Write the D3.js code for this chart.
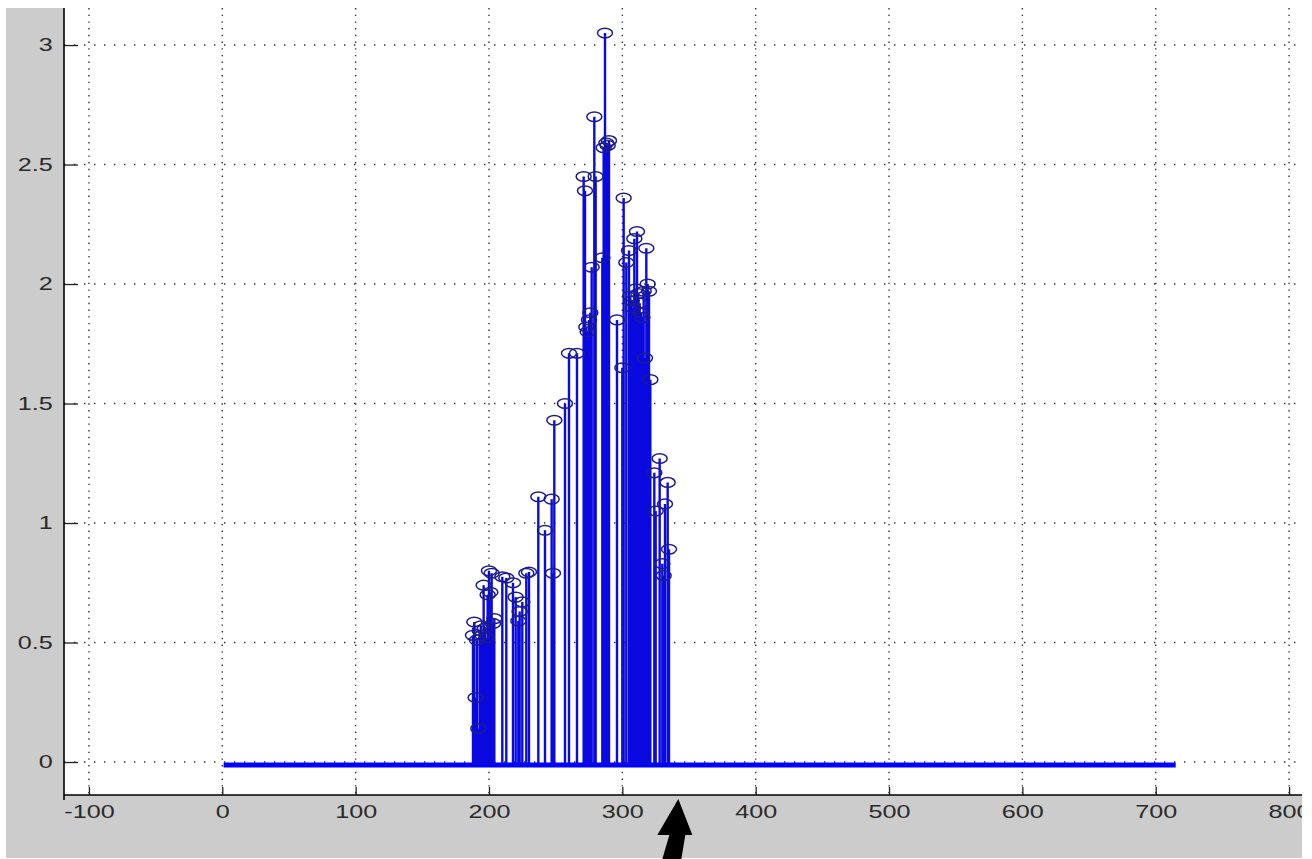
<!DOCTYPE html>
<html>
<head>
<meta charset="utf-8">
<script src="https://cdn.jsdelivr.net/npm/d3@7"></script>
<style>
body { margin: 0; background: #fff; }
svg { display: block; }
.tick text { font-family: "Liberation Sans", Arial, sans-serif; font-size: 18px; fill: #2a2a2a; }
</style>
</head>
<body>
<script>
// stem positions (sample index) and heights
const stemIdx = [188, 189, 190, 191, 192, 193, 194, 195, 196, 197, 198, 199, 200, 201, 202, 203, 204,
  210, 213, 218, 220, 222, 223, 225, 228, 230,
  237, 242, 247, 248, 249, 257, 260, 266,
  271, 272, 273, 274, 275, 276, 277, 279, 280,
  285, 286, 287, 288, 289, 290, 296, 300, 301, 303, 305,
  306, 307, 308, 309, 310, 311, 312, 313, 314, 315, 316, 317, 318, 319, 320, 321,
  324, 325, 328, 330, 331, 332, 334, 335];
const stemVal = [0.53, 0.586, 0.27, 0.51, 0.14, 0.55, 0.57, 0.53, 0.74, 0.56, 0.52, 0.70, 0.80, 0.71, 0.79, 0.58, 0.60,
  0.775, 0.77, 0.75, 0.69, 0.59, 0.63, 0.67, 0.79, 0.795,
  1.11, 0.97, 1.10, 0.79, 1.43, 1.50, 1.71, 1.71,
  2.45, 2.39, 1.82, 1.80, 1.85, 1.88, 2.07, 2.70, 2.45,
  2.11, 2.57, 3.05, 2.59, 2.58, 2.60, 1.85, 1.65, 2.36, 2.09, 2.14,
  1.95, 1.93, 1.90, 2.19, 1.98, 2.22, 1.96, 1.92, 1.88, 1.86, 1.97, 1.69, 2.15, 2.00, 1.97, 1.60,
  1.21, 1.05, 1.27, 0.83, 0.78, 1.08, 1.17, 0.89];

// the near-zero run that forms the thick baseline
const baseRange = [1, 715];
const baseVal = -0.012;

const xLimits = [-118.7, 809.7];
const yLimits = [-0.138, 3.155];
const xTicks = [-100, 0, 100, 200, 300, 400, 500, 600, 700, 800];
const yTicks = [0, 0.5, 1, 1.5, 2, 2.5, 3];

const arrowAt = 342;

const W = 1312, H = 859;
const frame = {left: 6, top: 8, right: 1302, bottom: 858};
const plot = {left: 64, top: 8, right: 1302, bottom: 795};

const svg = d3.select('body').append('svg')
  .attr('width', W)
  .attr('height', H);

svg.append('rect')
  .attr('width', W).attr('height', H)
  .attr('fill', '#fff');

svg.append('rect')
  .attr('x', frame.left).attr('y', frame.top)
  .attr('width', frame.right - frame.left)
  .attr('height', frame.bottom - frame.top)
  .attr('fill', '#cccccc');

svg.append('rect')
  .attr('x', plot.left).attr('y', plot.top)
  .attr('width', plot.right - plot.left)
  .attr('height', plot.bottom - plot.top)
  .attr('fill', '#fff');

const x = d3.scaleLinear().domain(xLimits).range([plot.left, plot.right]);
const y = d3.scaleLinear().domain(yLimits).range([plot.bottom, plot.top]);

// dotted grid
const grid = svg.append('g').attr('class', 'grid')
  .attr('stroke', '#333')
  .attr('stroke-width', 1.4);

grid.selectAll('line.gx')
  .data(xTicks)
  .enter()
  .append('line')
  .attr('class', 'gx')
  .attr('x1', d => x(d)).attr('x2', d => x(d))
  .attr('y1', plot.top).attr('y2', plot.bottom)
  .attr('stroke-dasharray', '1.4,5.3');

grid.selectAll('line.gy')
  .data(yTicks)
  .enter()
  .append('line')
  .attr('class', 'gy')
  .attr('x1', plot.left).attr('x2', plot.right)
  .attr('y1', d => y(d)).attr('y2', d => y(d))
  .attr('stroke-dasharray', '1.4,8.6');

// baseline
svg.append('line')
  .attr('x1', x(baseRange[0])).attr('x2', x(baseRange[1]))
  .attr('y1', y(baseVal)).attr('y2', y(baseVal))
  .attr('stroke', '#0000ff')
  .attr('stroke-width', 5);

const stems = stemIdx.map((d, i) => ({i: d, v: stemVal[i]}));

svg.append('g')
  .attr('class', 'stems')
  .selectAll('line')
  .data(stems)
  .enter()
  .append('line')
  .attr('x1', d => x(d.i)).attr('x2', d => x(d.i))
  .attr('y1', y(baseVal)).attr('y2', d => y(d.v))
  .attr('stroke', '#0a0ae0')
  .attr('stroke-width', 2.4);

svg.append('g')
  .attr('class', 'markers')
  .selectAll('ellipse')
  .data(stems)
  .enter()
  .append('ellipse')
  .attr('cx', d => x(d.i))
  .attr('cy', d => y(d.v))
  .attr('rx', 7.5)
  .attr('ry', 4.8)
  .attr('fill', 'none')
  .attr('stroke', '#1c1c90')
  .attr('stroke-width', 1.5);

// axes
const fmt = d => String(d);

const xAxis = svg.append('g')
  .attr('transform', `translate(0,${plot.bottom})`)
  .call(d3.axisBottom(x).tickValues(xTicks).tickFormat(fmt)
    .tickSizeInner(-8).tickSizeOuter(0).tickPadding(10));

const yAxis = svg.append('g')
  .attr('transform', `translate(${plot.left},0)`)
  .call(d3.axisLeft(y).tickValues(yTicks).tickFormat(fmt)
    .tickSizeInner(-14).tickSizeOuter(0).tickPadding(8));

[xAxis, yAxis].forEach(a => {
  a.select('.domain').remove();
  a.selectAll('.tick line').attr('stroke', '#222').attr('stroke-width', 1.3);
  a.selectAll('.tick text').attr('transform', 'scale(1.4,1)');
});

svg.append('line')
  .attr('x1', plot.left).attr('x2', plot.right)
  .attr('y1', plot.bottom).attr('y2', plot.bottom)
  .attr('stroke', '#000').attr('stroke-width', 1.6);

svg.append('line')
  .attr('x1', plot.left).attr('x2', plot.left)
  .attr('y1', plot.top).attr('y2', plot.bottom + 5)
  .attr('stroke', '#000').attr('stroke-width', 1.6);

// right edge cut off
svg.append('rect')
  .attr('x', plot.right).attr('y', 0)
  .attr('width', W - plot.right).attr('height', H)
  .attr('fill', '#fff');

// annotation arrow under the axis
const tx = x(arrowAt), ty = plot.bottom + 4;
svg.append('path')
  .attr('d', `M${tx},${ty} L${tx + 14},${ty + 36} L${tx + 7},${ty + 36} L${tx + 3},${H} L${tx - 16},${H} L${tx - 9},${ty + 36} L${tx - 21},${ty + 36} Z`)
  .attr('fill', '#000');
</script>
</body>
</html>
